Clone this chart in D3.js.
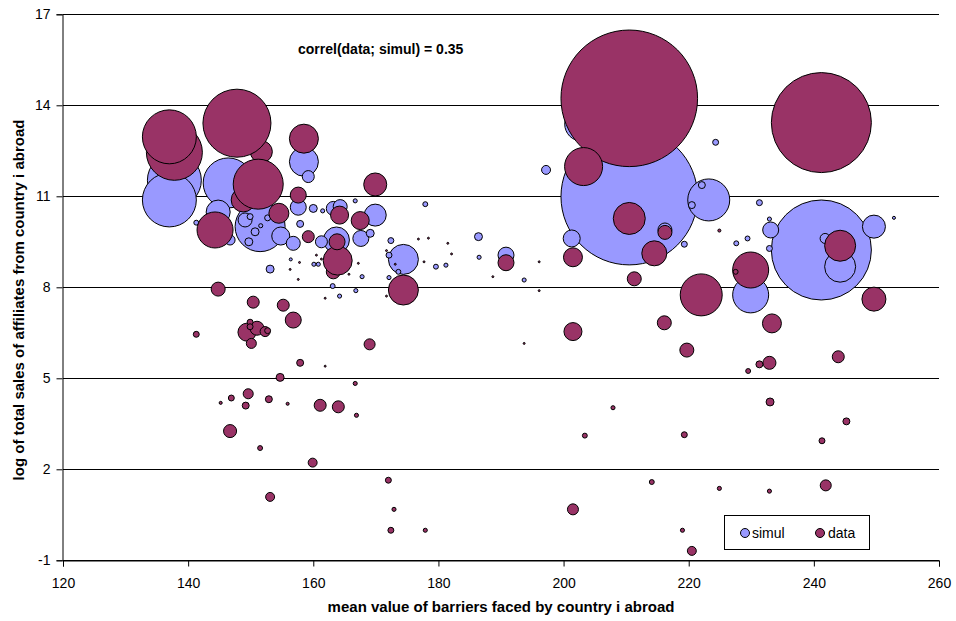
<!DOCTYPE html>
<html>
<head>
<meta charset="utf-8">
<script src="https://cdn.jsdelivr.net/npm/d3@7"></script>
<style>
  body { margin: 0; background: #fff; }
  svg { font-family: Arial, "Liberation Sans", sans-serif; }
</style>
</head>
<body>
<svg width="956" height="621"></svg>
<script>
// simul series (x = mean barriers, y = log sales, size = bubble size)
var simulX = [210.5, 241.2, 137.8, 137.0, 146.4, 151.5, 223.2, 229.9, 244.2, 174.4,
  158.5, 202.9, 163.7, 144.8, 249.6, 169.9, 154.8, 201.3, 233.1, 190.8,
  157.6, 167.6, 149.1, 156.8, 163.2, 164.3, 216.2, 161.3, 159.2, 146.7,
  241.8, 197.2, 153.1, 160.0, 150.7, 149.7, 169.1, 157.9, 222.1, 220.5,
  152.7, 149.9, 172.4, 172.1, 224.3, 231.3, 219.3, 232.9, 141.3, 163.1,
  173.6, 177.9, 179.6, 227.6, 229.4, 161.5, 151.6, 166.7, 160.1, 160.8,
  167.8, 164.2, 166.8, 172.1, 181.2, 186.4, 186.5, 193.7, 232.9, 156.4,
  252.8];
var simulY = [10.99, 9.23, 11.53, 10.88, 11.44, 10.0, 10.88, 7.75, 8.68, 8.92,
  12.14, 13.38, 9.56, 10.48, 10.0, 10.38, 9.69, 9.61, 9.89, 9.06,
  10.64, 9.61, 10.22, 9.45, 10.6, 10.66, 9.89, 9.5, 11.65, 9.56,
  9.61, 11.87, 8.6, 10.6, 9.83, 9.5, 9.78, 10.09, 11.37, 10.71,
  10.29, 10.33, 9.54, 9.06, 12.78, 10.79, 9.42, 9.28, 10.13, 8.04,
  8.51, 10.74, 8.68, 9.45, 9.61, 10.52, 10.03, 10.85, 8.76, 8.76,
  8.35, 7.71, 7.89, 8.32, 8.73, 9.67, 8.99, 8.24, 10.25, 8.92,
  10.29];
var simulSize = [100, 53.6, 15.6, 15.6, 13.4, 13.4, 9.45, 6.95, 5.15, 4.82,
  4.51, 6.2, 3.62, 3.09, 2.84, 2.59, 1.74, 1.55, 1.37, 1.37,
  1.37, 1.37, 1.05, 1.05, 1.05, 1.05, 1.05, 0.77, 0.77, 0.54,
  0.54, 0.43, 0.34, 0.34, 0.34, 0.34, 0.34, 0.26, 0.26, 0.26,
  0.19, 0.19, 0.19, 0.19, 0.19, 0.19, 0.19, 0.19, 0.13, 0.13,
  0.13, 0.13, 0.13, 0.13, 0.13, 0.09, 0.09, 0.09, 0.09, 0.09,
  0.09, 0.09, 0.09, 0.09, 0.09, 0.34, 0.09, 0.09, 0.09, 0.05,
  0.05];

// data series
var dataX = [151.7, 148.8, 163.2, 210.5, 241.2, 147.8, 137.8, 137.0, 151.2, 222.0,
  203.2, 144.3, 229.9, 210.5, 244.2, 174.4, 158.5, 163.9, 214.5, 249.6,
  169.9, 154.5, 201.5, 233.3, 201.5, 164.2, 167.5, 149.4, 157.6, 163.8,
  156.8, 144.8, 211.3, 216.2, 216.1, 219.7, 151.0, 232.9, 146.7, 150.4,
  155.2, 159.2, 161.1, 164.0, 243.9, 169.0, 241.9, 201.5, 152.3, 149.6,
  150.1, 159.9, 153.1, 220.5, 154.7, 233.0, 157.9, 149.2, 152.9, 231.3,
  245.2, 149.9, 149.9, 152.7, 141.3, 146.9, 172.0, 172.4, 241.3, 219.3,
  227.5, 229.5, 151.5, 203.4, 214.1, 166.7, 166.9, 172.9, 177.9, 207.9,
  224.9, 232.9, 219.0, 145.2, 155.9, 224.9, 161.9, 157.8, 156.3, 157.6,
  160.5, 161.3, 167.2, 165.7, 171.7, 171.7, 161.9, 173.1, 176.8, 178.4,
  181.5, 182.1, 177.7, 188.7, 196.1, 196.1, 193.7, 190.8];
var dataY = [12.47, 10.88, 8.51, 14.23, 13.43, 13.41, 12.45, 12.96, 11.4, 7.75,
  11.98, 9.89, 8.57, 10.27, 9.37, 7.91, 12.9, 8.88, 9.12, 7.61,
  11.39, 10.44, 8.99, 6.81, 6.54, 10.38, 10.2, 6.52, 11.04, 9.5,
  6.92, 7.94, 8.28, 9.81, 6.83, 5.93, 6.65, 5.51, 3.26, 7.51,
  7.41, 9.67, 4.11, 4.06, 5.71, 6.12, 1.47, 0.68, 6.54, 4.49,
  6.15, 2.22, 1.09, -0.69, 5.03, 4.22, 5.51, 4.1, 4.31, 5.46,
  3.58, 6.85, 6.7, 6.57, 6.45, 4.35, 1.64, -0.01, 2.94, 3.14,
  8.51, 5.24, 2.7, 3.11, 1.58, 4.83, 3.78, 0.68, -0.01, 4.03,
  1.37, 1.28, -0.01, 4.19, 4.16, 9.87, 5.4, 8.82, 8.59, 8.26,
  9.06, 8.93, 8.79, 8.43, 9.21, 7.71, 7.64, 8.76, 9.59, 9.62,
  9.45, 9.1, 8.84, 8.35, 8.84, 7.89, 6.15, 8.81];
var dataSize = [2.59, 3.09, 1.05, 100, 53.6, 24.8, 16.8, 15.6, 13.4, 9.45,
  7.74, 6.95, 6.95, 5.49, 5.15, 4.82, 4.51, 4.51, 3.35, 3.09,
  2.84, 2.14, 1.93, 1.93, 1.74, 1.74, 1.74, 1.74, 1.37, 1.37,
  1.37, 1.05, 1.05, 1.05, 1.05, 1.05, 1.05, 0.91, 0.91, 0.77,
  0.77, 0.77, 0.77, 0.77, 0.77, 0.65, 0.65, 0.65, 0.54, 0.54,
  0.54, 0.43, 0.43, 0.43, 0.34, 0.34, 0.26, 0.26, 0.26, 0.26,
  0.26, 0.19, 0.19, 0.19, 0.19, 0.19, 0.19, 0.19, 0.19, 0.19,
  0.13, 0.13, 0.13, 0.13, 0.13, 0.09, 0.09, 0.09, 0.09, 0.09,
  0.09, 0.09, 0.09, 0.05, 0.05, 0.05, 0.02, 0.02, 0.02, 0.02,
  0.02, 0.02, 0.02, 0.02, 0.02, 0.02, 0.02, 0.02, 0.02, 0.02,
  0.02, 0.02, 0.02, 0.02, 0.02, 0.02, 0.02, 1.37];

var xTicks = [120, 140, 160, 180, 200, 220, 240, 260];
var yTicks = [-1, 2, 5, 8, 11, 14, 17];
var seriesNames = ["simul", "data"];
var seriesColors = ["#9999FF", "#993366"];
var correlText = "correl(data; simul) = 0.35";

var svg = d3.select("svg");
const plotLeft = 63, plotRight = 939, plotTop = 14.3, plotBottom = 560.3;

var x = d3.scaleLinear().domain([120, 260]).range([plotLeft, plotRight]);
var y = d3.scaleLinear().domain([-1, 17]).range([plotBottom, plotTop]);
var r = d3.scaleSqrt().domain([0, 100]).range([0, 68.3]);

// horizontal gridlines
svg.append("g")
    .selectAll("line")
    .data(yTicks)
    .enter()
    .append("line")
    .attr("x1", plotLeft)
    .attr("x2", plotRight)
    .attr("y1", function (d) { return Math.round(y(d)) + 0.5; })
    .attr("y2", function (d) { return Math.round(y(d)) + 0.5; })
    .style("stroke", "#000")
    .style("stroke-width", 1);

// bubbles, simul first then data on top
function bubbles(xs, ys, ss, color) {
    var pts = xs.map(function (v, i) { return { x: v, y: ys[i], s: ss[i] }; });
    svg.append("g")
        .selectAll("circle")
        .data(pts)
        .enter()
        .append("circle")
        .attr("cx", function (d) { return x(d.x); })
        .attr("cy", function (d) { return y(d.y); })
        .attr("r", function (d) { return r(d.s); })
        .style("fill", color)
        .style("stroke", "#000")
        .style("stroke-width", 1);
}
var simulOrder = d3.range(simulX.length).sort(function (a, b) { return simulSize[b] - simulSize[a]; });
bubbles(simulOrder.map(function (i) { return simulX[i]; }),
    simulOrder.map(function (i) { return simulY[i]; }),
    simulOrder.map(function (i) { return simulSize[i]; }), seriesColors[0]);
bubbles(dataX, dataY, dataSize, seriesColors[1]);

// axes (plain hyphen for negatives, like the original)
var plain = function (d) { return String(d); };
var xAxis = svg.append("g")
    .attr("transform", "translate(0," + (Math.round(plotBottom) + 0.5) + ")")
    .call(d3.axisBottom(x).tickValues(xTicks).tickSize(6).tickPadding(12).tickFormat(plain));
var yAxis = svg.append("g")
    .attr("transform", "translate(" + (plotLeft - 0.5) + ",0)")
    .call(d3.axisLeft(y).tickValues(yTicks).tickSize(6).tickPadding(6).tickFormat(plain));
[xAxis, yAxis].forEach(function (g) {
    g.attr("font-family", null).attr("font-size", null);
    g.selectAll("path, line").style("stroke", "#000");
    g.selectAll("text").style("font-size", "14px").style("fill", "#000");
});

// axis titles
svg.append("text")
    .attr("x", (plotLeft + plotRight) / 2)
    .attr("y", 612)
    .attr("text-anchor", "middle")
    .style("font-size", "15px")
    .style("font-weight", "bold")
    .text("mean value of barriers faced by country i abroad");
svg.append("text")
    .attr("transform", "translate(24,300) rotate(-90)")
    .attr("text-anchor", "middle")
    .style("font-size", "15px")
    .style("font-weight", "bold")
    .text("log of total sales of affiliates from country i abroad");

// correlation note
svg.append("text")
    .attr("x", 298)
    .attr("y", 54)
    .style("font-size", "14px")
    .style("font-weight", "bold")
    .text(correlText);

// legend
const legendX = 724, legendY = 515;
svg.append("rect")
    .attr("x", legendX + 0.5)
    .attr("y", legendY + 0.5)
    .attr("width", 145)
    .attr("height", 34)
    .style("fill", "#fff")
    .style("stroke", "#000");
seriesNames.forEach(function (name, i) {
    svg.append("circle")
        .attr("cx", legendX + 21 + 75 * i)
        .attr("cy", legendY + 18)
        .attr("r", 4.5)
        .style("fill", seriesColors[i])
        .style("stroke", "#000");
    svg.append("text")
        .attr("x", legendX + 28 + 76 * i)
        .attr("y", legendY + 23)
        .style("font-size", "14px")
        .text(name);
});
</script>
</body>
</html>
